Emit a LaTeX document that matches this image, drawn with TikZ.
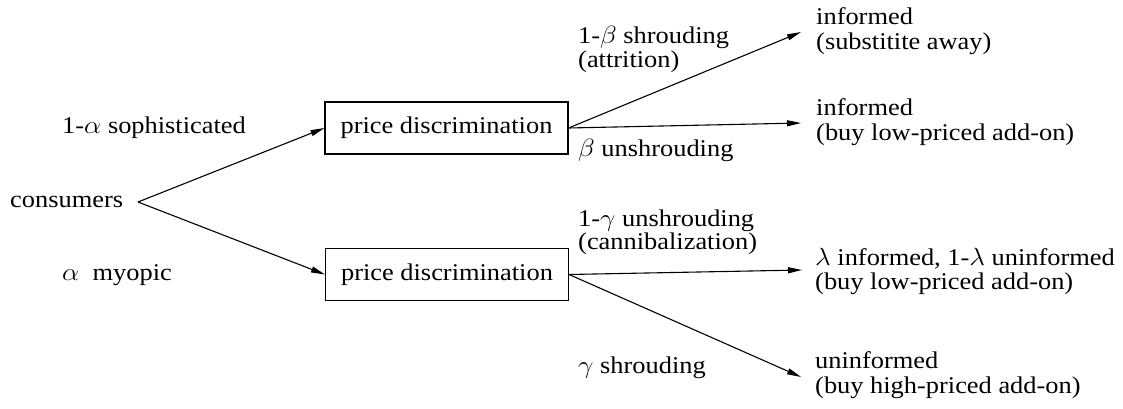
\documentclass[tikz,border=0pt]{standalone}
\usepackage{fontspec}
\setmainfont{Liberation Serif}
\newfontfamily\tms{Liberation Serif}
\usetikzlibrary{arrows.meta}
\newcommand{\sx}[1]{\scalebox{1.1}[1]{#1}}
\tikzset{
  txt/.style={anchor=base west, inner sep=0pt, font=\tms\fontsize{24}{24}\selectfont},
  pbox/.style={draw, line width=1.1pt, minimum width=243pt, minimum height=52pt, inner sep=0pt, font=\tms\fontsize{24}{24}\selectfont},
  conn/.style={line width=1.1pt, -{Triangle[length=14pt,width=6pt]}}
}
\begin{document}
\begin{tikzpicture}[x=1pt,y=-1pt]
\useasboundingbox (0,0) rectangle (1123,409);
% left
\node[txt] (cons) at (10,207) {\sx{consumers}};
\node[txt] (soph) at (62,133) {\sx{1-$\alpha$ sophisticated}};
\node[txt] (myop) at (62,280) {\sx{$\alpha$\ \ myopic}};
\coordinate (split) at (138,202);
% boxes
\node[pbox] (b1) at (446.5,128) {\sx{price discrimination}};
\node[pbox] (b2) at (447,274.5) {\sx{price discrimination}};
\draw[conn] (split) -- (b1.west);
\draw[conn] (split) -- (b2.west);
% targets
\coordinate (t1) at (801,32);
\coordinate (t2) at (801,123);
\coordinate (t3) at (802,270);
\coordinate (t4) at (801,377);
\draw[conn] (b1.east) -- (t1);
\draw[conn] (b1.east) -- (t2);
\draw[conn] (b2.east) -- (t3);
\draw[conn] (b2.east) -- (t4);
% middle labels
\node[txt] (l1a) at (578,44) {\sx{1-$\beta$ shrouding}};
\node[txt] (l1b) at (578,68) {\sx{(attrition)}};
\node[txt] (l2) at (578,156) {\sx{$\beta$ unshrouding}};
\node[txt] (l3a) at (578,226) {\sx{1-$\gamma$ unshrouding}};
\node[txt] (l3b) at (578,249) {\sx{(cannibalization)}};
\node[txt] (l4) at (578,373) {\sx{$\gamma$ shrouding}};
% right outcomes
\node[txt] (r1a) at (816,25) {\sx{informed}};
\node[txt] (r1b) at (816,50) {\sx{(substitite away)}};
\node[txt] (r2a) at (816,116) {\sx{informed}};
\node[txt] (r2b) at (816,140) {\sx{(buy low-priced add-on)}};
\node[txt] (r3a) at (815,265) {\sx{$\lambda$ informed, 1-$\lambda$ uninformed}};
\node[txt] (r3b) at (815,289) {\sx{(buy low-priced add-on)}};
\node[txt] (r4a) at (815,368) {\sx{uninformed}};
\node[txt] (r4b) at (815,393) {\sx{(buy high-priced add-on)}};
\end{tikzpicture}
\end{document}
